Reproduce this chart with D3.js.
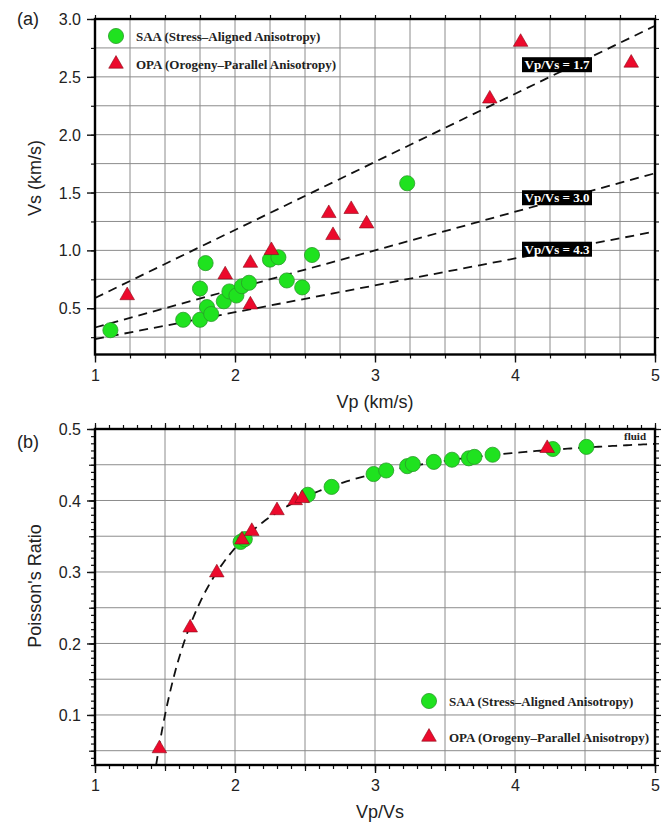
<!DOCTYPE html>
<html lang="en">
<head>
    <meta charset="UTF-8">
    <title>Vp-Vs and Poisson's ratio</title>
    <script src="https://d3js.org/d3.v7.min.js"></script>
    <style>
        body { margin: 0; background: #fff; }
        .tick text { font-family: "Liberation Sans", Arial, sans-serif; font-size: 16px; fill: #222; }
        .grid line { stroke: #8c8c8c; stroke-width: 1; }
        .grid path { display: none; }
        .legend { font-family: "Liberation Serif", "Times New Roman", serif; font-weight: bold; font-size: 13px; fill: #222; }
        .title { font-family: "Liberation Sans", Arial, sans-serif; font-size: 18px; fill: #222; }
    </style>
</head>
<body>
<div id="chart"></div>
<script>
    const width = 670;
    const height = 824;

    // panel (a): Vp vs Vs
    const saaVp = [1.11, 1.63, 1.75, 1.75, 1.79, 1.80, 1.83, 1.92, 1.96, 2.01, 2.05, 2.10, 2.25, 2.31, 2.37, 2.48, 2.55, 3.23];
    const saaVs = [0.31, 0.40, 0.40, 0.67, 0.89, 0.51, 0.45, 0.56, 0.645, 0.61, 0.69, 0.72, 0.92, 0.94, 0.74, 0.68, 0.96, 1.58];
    const opaVp = [1.23, 1.93, 2.11, 2.11, 2.26, 2.67, 2.70, 2.83, 2.94, 3.82, 4.04, 4.83];
    const opaVs = [0.61, 0.79, 0.89, 0.53, 1.00, 1.32, 1.13, 1.355, 1.23, 2.31, 2.80, 2.62];
    const ratioLines = [1.7, 3.0, 4.3];
    const ratioLabelY = [2.605, 1.455, 1.01];

    // panel (b): Vp/Vs vs Poisson's ratio
    const saaRatio = [2.04, 2.07, 2.52, 2.69, 2.99, 3.08, 3.23, 3.27, 3.42, 3.55, 3.67, 3.71, 3.84, 4.27, 4.51];
    const saaPoisson = [0.342, 0.346, 0.408, 0.419, 0.437, 0.442, 0.448, 0.451, 0.454, 0.457, 0.459, 0.461, 0.464, 0.472, 0.475];
    const opaRatio = [1.46, 1.68, 1.87, 2.05, 2.12, 2.30, 2.43, 2.48, 4.23];
    const opaPoisson = [0.053, 0.222, 0.299, 0.345, 0.357, 0.386, 0.400, 0.403, 0.473];

    const legendLabels = ["SAA (Stress\u2013Aligned Anisotropy)", "OPA (Orogeny\u2013Parallel Anisotropy)"];
    const green = "#1fe21f", greenEdge = "#2a9a2a";
    const red = "#ec0a2c", redEdge = "#8a0a18";

    const svg = d3.select("#chart").append("svg")
        .attr("width", width).attr("height", height);

    const left = 95, right = 655;
    const xA = d3.scaleLinear().domain([1, 5]).range([left, right]);
    const yA = d3.scaleLinear().domain([0.1, 3.0]).range([354.5, 19]);
    const xB = d3.scaleLinear().domain([1, 5]).range([left, right]);
    const yB = d3.scaleLinear().domain([0.03, 0.5]).range([765, 429]);

    const circle = d3.symbol().type(d3.symbolCircle).size(180);
    const tri = d3.symbol().type(d3.symbolTriangle).size(92);

    function steps(a, b, s) {
        const out = [];
        for (let i = 0; a + i * s <= b + 1e-9; i++) out.push(+(a + i * s).toFixed(4));
        return out;
    }

    function drawGrid(g, x, y, xv, yv) {
        const [x0, x1] = x.range(), [y0, y1] = y.range();
        g.append("g").attr("class", "grid")
            .selectAll("line").data(xv).join("line")
            .attr("x1", d => x(d)).attr("x2", d => x(d))
            .attr("y1", y0).attr("y2", y1);
        g.append("g").attr("class", "grid")
            .selectAll("line").data(yv).join("line")
            .attr("x1", x0).attr("x2", x1)
            .attr("y1", d => y(d)).attr("y2", d => y(d));
    }

    // tick sets: [values, length]
    function drawFrame(g, x, y, xTicks, yTicks, xLabels, yLabels, yFmt) {
        const [x0, x1] = x.range(), [y0, y1] = y.range();
        xTicks.forEach(([vals, len]) => {
            g.append("g").attr("transform", `translate(0,${y0})`)
                .call(d3.axisBottom(x).tickValues(vals).tickSize(len).tickFormat(""))
                .call(a => a.select(".domain").remove());
            g.append("g").attr("transform", `translate(0,${y1})`)
                .call(d3.axisTop(x).tickValues(vals).tickSize(len).tickFormat(""))
                .call(a => a.select(".domain").remove());
        });
        yTicks.forEach(([vals, len]) => {
            g.append("g").attr("transform", `translate(${x0},0)`)
                .call(d3.axisLeft(y).tickValues(vals).tickSize(len).tickFormat(""))
                .call(a => a.select(".domain").remove());
            g.append("g").attr("transform", `translate(${x1},0)`)
                .call(d3.axisRight(y).tickValues(vals).tickSize(len).tickFormat(""))
                .call(a => a.select(".domain").remove());
        });
        g.selectAll(".tick line").attr("stroke", "#111").attr("stroke-width", 1.2);
        // labels
        g.append("g").attr("transform", `translate(0,${y0})`)
            .call(d3.axisBottom(x).tickValues(xLabels).tickSize(8).tickPadding(7).tickFormat(d3.format("d")))
            .call(a => a.select(".domain").remove())
            .call(a => a.selectAll(".tick line").attr("stroke", "#111").attr("stroke-width", 1.4));
        g.append("g").attr("transform", `translate(${x0},0)`)
            .call(d3.axisLeft(y).tickValues(yLabels).tickSize(8).tickPadding(6).tickFormat(yFmt))
            .call(a => a.select(".domain").remove())
            .call(a => a.selectAll(".tick line").attr("stroke", "#111").attr("stroke-width", 1.4))
            .call(a => a.selectAll(".tick text").attr("dy", "0.35em"));
        g.append("rect")
            .attr("x", x0).attr("y", y1).attr("width", x1 - x0).attr("height", y0 - y1)
            .attr("fill", "none").attr("stroke", "#000").attr("stroke-width", 2.4);
    }

    function drawLegend(g, lx, ly, gap) {
        g.append("path").attr("d", circle()).attr("transform", `translate(${lx},${ly})`)
            .attr("fill", green).attr("stroke", greenEdge).attr("stroke-width", 0.8);
        g.append("path").attr("d", tri()).attr("transform", `translate(${lx},${ly + gap})`)
            .attr("fill", red).attr("stroke", redEdge).attr("stroke-width", 0.6);
        legendLabels.forEach((t, i) => {
            g.append("text").attr("class", "legend")
                .attr("x", lx + 20).attr("y", ly + i * gap + 4.5).text(t);
        });
    }

    // ---------- panel (a)
    const gA = svg.append("g");
    drawGrid(gA, xA, yA, steps(1.25, 4.75, 0.25), steps(0.25, 2.75, 0.25));

    ratioLines.forEach(r => {
        gA.append("line")
            .attr("x1", xA(1)).attr("y1", yA(1 / r))
            .attr("x2", xA(5)).attr("y2", yA(5 / r))
            .attr("stroke", "#111").attr("stroke-width", 1.8)
            .attr("stroke-dasharray", "9,6");
    });

    drawFrame(gA, xA, yA,
        [[steps(1, 5, 0.25), 4]],
        [[steps(0.25, 3, 0.25), 4]],
        [1, 2, 3, 4, 5], [0.5, 1.0, 1.5, 2.0, 2.5, 3.0], d3.format(".1f"));

    gA.selectAll(".sa").data(saaVp).join("path")
        .attr("d", circle())
        .attr("transform", (d, i) => `translate(${xA(d)},${yA(saaVs[i])})`)
        .attr("fill", green).attr("stroke", greenEdge).attr("stroke-width", 0.8);
    gA.selectAll(".op").data(opaVp).join("path")
        .attr("d", tri())
        .attr("transform", (d, i) => `translate(${xA(d)},${yA(opaVs[i])})`)
        .attr("fill", red).attr("stroke", redEdge).attr("stroke-width", 0.6);

    ratioLines.forEach((r, i) => {
        const cx = xA(4.3), cy = yA(ratioLabelY[i]);
        gA.append("rect").attr("x", cx - 35).attr("y", cy - 7.5)
            .attr("width", 70).attr("height", 15).attr("fill", "#000");
        gA.append("text").attr("class", "legend")
            .attr("x", cx).attr("y", cy + 4.5).attr("text-anchor", "middle")
            .style("fill", "#fff").style("font-size", "13px")
            .text(`Vp/Vs = ${d3.format(".1f")(r)}`);
    });

    drawLegend(gA, 116, 36, 28);

    gA.append("text").attr("class", "title").attr("x", 17).attr("y", 25).text("(a)");
    gA.append("text").attr("class", "title").attr("text-anchor", "middle")
        .attr("transform", "translate(41,178) rotate(-90)").text("Vs (km/s)");
    gA.append("text").attr("class", "title").attr("text-anchor", "middle")
        .attr("x", 375).attr("y", 408).text("Vp (km/s)");

    // ---------- panel (b)
    const gB = svg.append("g");
    drawGrid(gB, xB, yB, steps(1.5, 4.5, 0.5), steps(0.05, 0.45, 0.05));

    const poisson = r => (r * r - 2) / (2 * (r * r - 1));
    const rStart = Math.sqrt((2 - 2 * 0.03) / (1 - 2 * 0.03));
    const curve = d3.range(rStart, 5.0001, 0.02).map(r => [r, poisson(r)]);
    gB.append("path").datum(curve)
        .attr("d", d3.line().x(d => xB(d[0])).y(d => yB(d[1])))
        .attr("fill", "none").attr("stroke", "#111").attr("stroke-width", 1.8)
        .attr("stroke-dasharray", "9,6");

    drawFrame(gB, xB, yB,
        [[steps(1, 5, 0.1), 4], [steps(1, 5, 0.5), 6]],
        [[steps(0.03, 0.5, 0.01), 4], [steps(0.05, 0.5, 0.05), 6]],
        [1, 2, 3, 4, 5], [0.1, 0.2, 0.3, 0.4, 0.5], d3.format(".1f"));

    gB.selectAll(".sa").data(saaRatio).join("path")
        .attr("d", circle())
        .attr("transform", (d, i) => `translate(${xB(d)},${yB(saaPoisson[i])})`)
        .attr("fill", green).attr("stroke", greenEdge).attr("stroke-width", 0.8);
    gB.selectAll(".op").data(opaRatio).join("path")
        .attr("d", tri())
        .attr("transform", (d, i) => `translate(${xB(d)},${yB(opaPoisson[i])})`)
        .attr("fill", red).attr("stroke", redEdge).attr("stroke-width", 0.6);

    gB.append("text").attr("class", "legend").attr("text-anchor", "end")
        .style("font-size", "11px").attr("x", 646).attr("y", 440).text("fluid");

    drawLegend(gB, 429, 701, 36);

    gB.append("text").attr("class", "title").attr("x", 17).attr("y", 448).text("(b)");
    gB.append("text").attr("class", "title").attr("text-anchor", "middle")
        .attr("transform", "translate(41,586) rotate(-90)").text("Poisson's Ratio");
    gB.append("text").attr("class", "title").attr("text-anchor", "middle")
        .attr("x", 380).attr("y", 818).text("Vp/Vs");
</script>
</body>
</html>
